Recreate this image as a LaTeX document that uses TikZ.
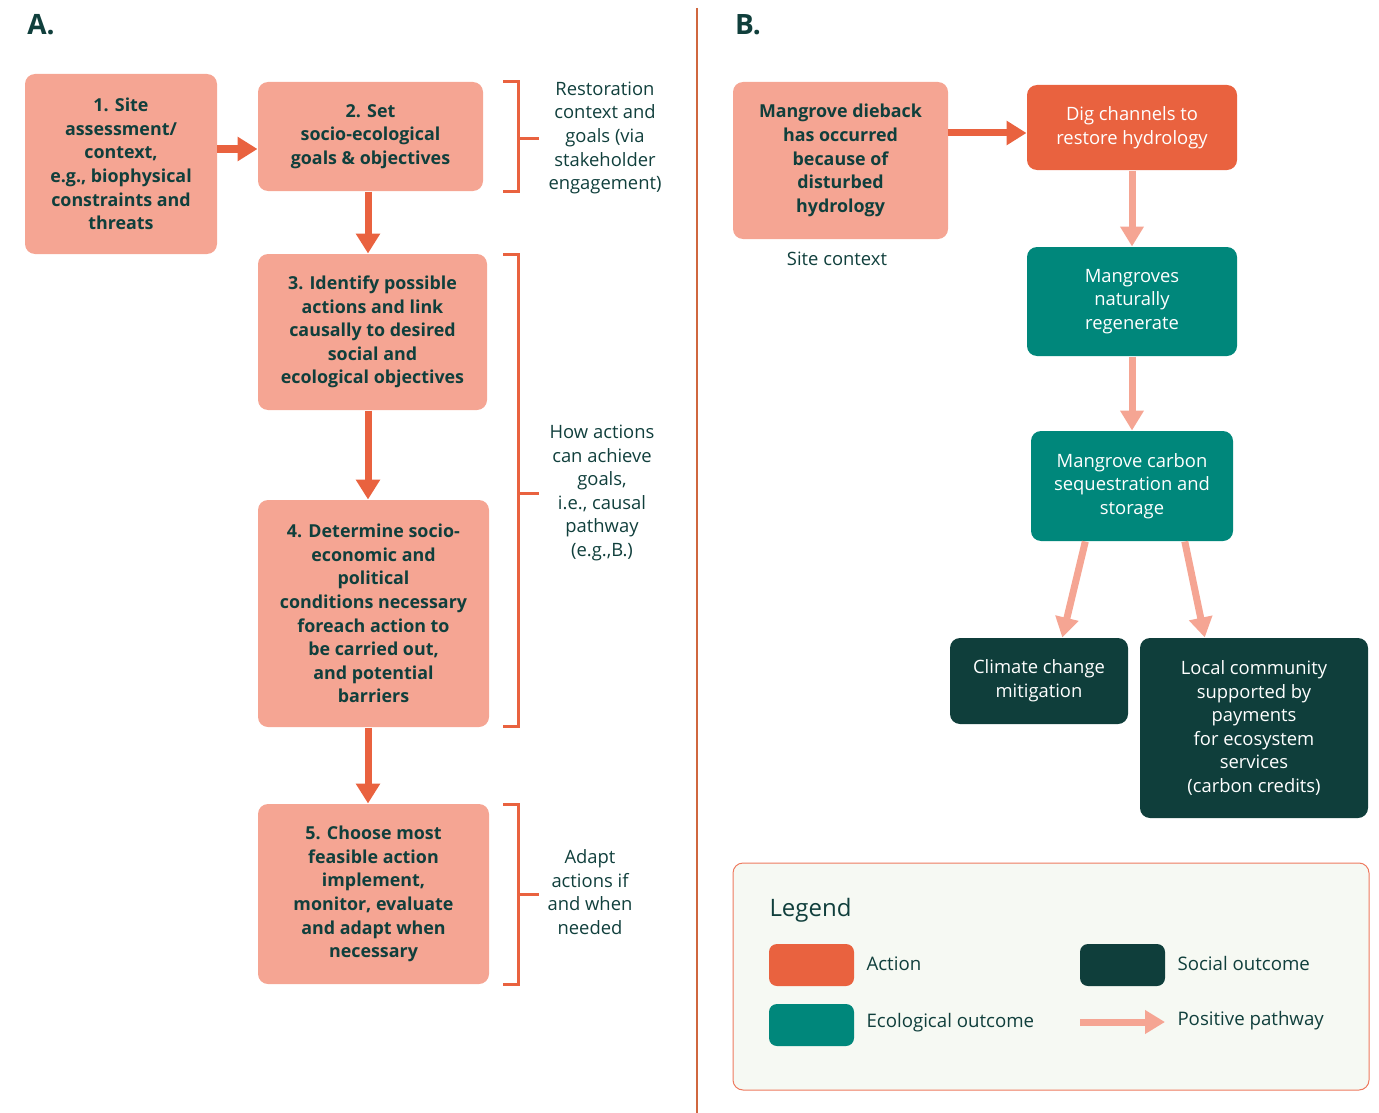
\documentclass[tikz,border=0pt]{standalone}
\usepackage{fontspec}
\setmainfont{Open Sans}
\usetikzlibrary{arrows.meta,calc}

\definecolor{boxsalmon}{HTML}{F5A593}
\definecolor{actorange}{HTML}{E9623F}
\definecolor{ecoteal}{HTML}{00877B}
\definecolor{socdark}{HTML}{0F3E3B}
\definecolor{txtdark}{HTML}{103F3C}
\definecolor{legendbg}{HTML}{F6F9F3}
\definecolor{legendline}{HTML}{EE7A5F}
\definecolor{divline}{HTML}{D0673F}

\tikzset{every picture/.style={line width=0.75pt}}
\tikzset{
  stepbox/.style={fill=boxsalmon, rounded corners=7.5pt, inner sep=0pt, align=center,
    text=txtdark, font=\fontsize{13.4}{17.7}\selectfont\bfseries},
  actbox/.style={fill=actorange, rounded corners=7.5pt, inner sep=0pt, align=center,
    text=white, font=\fontsize{13.8}{17.7}\selectfont},
  ecobox/.style={actbox, fill=ecoteal},
  socbox/.style={actbox, fill=socdark},
  sidelabel/.style={align=center, text=txtdark, font=\fontsize{13.8}{17.7}\selectfont},
  keylabel/.style={anchor=west, inner sep=0pt, text=txtdark, font=\fontsize{14}{17.7}\selectfont},
  bracket/.style={draw=actorange, line width=2.25pt},
  actarrow/.style={draw=actorange, line width=5.25pt, -{Triangle[width=17.5pt,length=15pt]}},
  posarrow/.style={draw=boxsalmon, line width=5.25pt, -{Triangle[width=17pt,length=15pt]}},
}

\begin{document}
\begin{tikzpicture}[x=0.75pt,y=0.75pt,yscale=-1,xscale=1]
\useasboundingbox (0,0) rectangle (1379,1113);
%Panel letters
\node (tagA) at (41,25) [text=txtdark, font=\fontsize{21}{24}\selectfont\bfseries] {A.};
\node (tagB) at (748,25) [text=txtdark, font=\fontsize{21}{24}\selectfont\bfseries] {B.};
%Divider
\draw [draw=divline, line width=1.5pt] (697,8) -- (697,1113);

%Shape: Steps of panel A
\node (step1) at (121,164) [stepbox, minimum width=144pt, minimum height=135pt]
  {1. Site\\assessment/\\context,\\e.g., biophysical\\constraints and\\threats};
\node (step2) at (370.5,136.5) [stepbox, minimum width=168.75pt, minimum height=81.75pt]
  {2. Set\\socio-ecological\\goals \& objectives};
\node (step3) at (372.5,332) [stepbox, minimum width=171.75pt, minimum height=117pt]
  {3. Identify possible\\actions and link\\causally to desired\\social and\\ecological objectives};
\node (step4) at (373.5,613.5) [stepbox, minimum width=173.25pt, minimum height=170.25pt]
  {4. Determine socio-\\economic and\\political\\conditions necessary\\foreach action to\\be carried out,\\and potential\\barriers};
\node (step5) at (373.5,894) [stepbox, minimum width=173.25pt, minimum height=135pt]
  {5. Choose most\\feasible action\\implement,\\monitor, evaluate\\and adapt when\\necessary};

%Arrows of panel A
\coordinate (s12) at (217,149);
\draw [actarrow] (s12) -- (s12 -| step2.west);
\draw [actarrow] (step2.south -| 368,0) -- (step3.north -| 368,0);
\draw [actarrow] (step3.south -| 368,0) -- (step4.north -| 368,0);
\draw [actarrow] (step4.south -| 368,0) -- (step5.north -| 368,0);

%Brackets
\draw [bracket] (503,82) -- (518,82) -- (518,191) -- (503,191);
\draw [bracket] (518,139) -- (539,139);
\draw [bracket] (503,254) -- (518,254) -- (518,726) -- (503,726);
\draw [bracket] (518,493) -- (539,493);
\draw [bracket] (503,804) -- (518,804) -- (518,984) -- (503,984);
\draw [bracket] (518,894) -- (539,894);

% Text Node
\node (goalsnote) at (605,138) [sidelabel] {Restoration\\context and\\goals (via\\stakeholder\\engagement)};
\node (pathnote) at (602,493) [sidelabel] {How actions\\can achieve\\goals,\\i.e., causal\\pathway\\(e.g.,B.)};
\node (adaptnote) at (590,892) [sidelabel] {Adapt\\actions if\\and when\\needed};

%Shape: Causal pathway of panel B
\node (dieback) at (840.5,160.5) [stepbox, minimum width=161.25pt, minimum height=117.75pt]
  {Mangrove dieback\\has occurred\\because of\\disturbed\\hydrology};
\node (sitectx) at (837,259) [sidelabel] {Site context};
\node (digging) at (1132,127.5) [actbox, minimum width=157.5pt, minimum height=63.75pt]
  {Dig channels to\\restore hydrology};
\node (regen) at (1132,301.5) [ecobox, minimum width=157.5pt, minimum height=81.75pt]
  {Mangroves\\naturally\\regenerate};
\node (carbon) at (1132,486) [ecobox, minimum width=151.5pt, minimum height=82.5pt]
  {Mangrove carbon\\sequestration and\\storage};
\node (climate) at (1039,681) [socbox, minimum width=133.5pt, minimum height=64.5pt]
  {Climate change\\mitigation};
\node (community) at (1254,728) [socbox, minimum width=171pt, minimum height=135pt]
  {Local community\\supported by\\payments\\for ecosystem\\services\\(carbon credits)};

%Arrows of panel B
\coordinate (dd) at (948,133);
\draw [actarrow] (dd) -- (dd -| digging.west);
\draw [posarrow] (digging) -- (regen);
\draw [posarrow] (regen) -- (carbon);
\draw [posarrow] ($(carbon.south west)!0.27!(carbon.south east)$) -- ($(climate.north west)!0.63!(climate.north east)$);
\draw [posarrow] ($(carbon.south west)!0.76!(carbon.south east)$) -- ($(community.north west)!0.285!(community.north east)$);

%Legend
\draw [fill=legendbg, draw=legendline, rounded corners=7.5pt] (733,863) rectangle (1369,1090);
\node (legendtitle) at (769,910) [keylabel, font=\fontsize{18}{22}\selectfont] {Legend};
\node (keyact) at (811.5,965) [actbox, rounded corners=6pt, minimum width=63.75pt, minimum height=31.5pt] {};
\node (keyeco) at (811.5,1025) [ecobox, rounded corners=6pt, minimum width=63.75pt, minimum height=31.5pt] {};
\node (keysoc) at (1122.5,965) [socbox, rounded corners=6pt, minimum width=63.75pt, minimum height=31.5pt] {};
\coordinate (keyfrom) at (1080,1022);
\coordinate (keyto) at (1165,1022);
\draw [posarrow] (keyfrom) -- (keyto);
\node (lblact) at (866,964) [keylabel] {Action};
\node (lbleco) at (866,1023) [keylabel] {Ecological outcome};
\node (lblsoc) at (1177,963) [keylabel] {Social outcome};
\node (lblpos) at (1177,1021) [keylabel] {Positive pathway};

\end{tikzpicture}
\end{document}
